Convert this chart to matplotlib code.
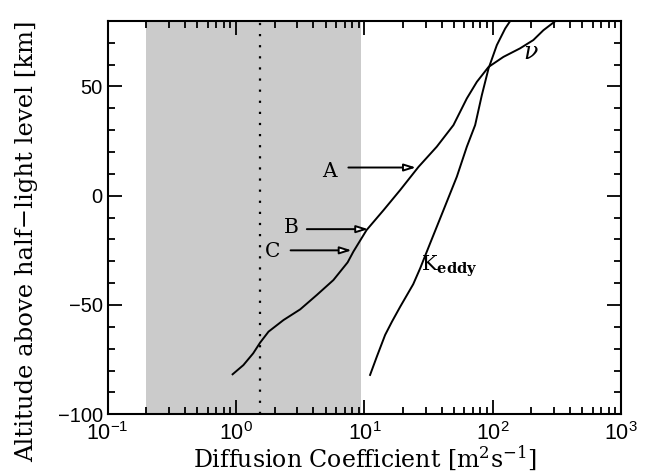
import matplotlib
matplotlib.use("Agg")
import matplotlib.pyplot as plt
from matplotlib.ticker import FixedLocator, FixedFormatter, MultipleLocator, LogLocator, NullFormatter

plt.rcParams['mathtext.fontset'] = 'custom'
plt.rcParams['mathtext.rm'] = 'DejaVu Serif'
plt.rcParams['mathtext.it'] = 'DejaVu Serif:italic'
plt.rcParams['mathtext.bf'] = 'DejaVu Serif:bold'
plt.rcParams['mathtext.sf'] = 'Liberation Sans'

# ---- data ----
nu_x = [0.94, 1.14, 1.36, 1.54, 1.79, 2.34, 3.16, 4.26, 5.73, 7.4, 8.2, 10.4, 14.1, 19.0, 26.4, 36.6, 49.4, 62.8, 75.2, 92.7, 121, 163, 207, 248, 306]
nu_y = [-81.7, -77.5, -72.1, -67.2, -62.2, -56.9, -52.0, -45.4, -38.6, -30.5, -25.6, -15.7, -6.6, 2.6, 13.2, 22.4, 32.3, 44.5, 52.1, 58.9, 63.5, 67.4, 71.2, 75.7, 79.8]
k_x = [11.07, 12.5, 14.5, 16.4, 19.0, 24.0, 27.2, 32.5, 41.3, 52.5, 62.8, 72.9, 82.2, 92.7, 107.6, 125, 137]
k_y = [-82.0, -73.6, -63.7, -57.6, -50.8, -40.5, -33.2, -21.8, -6.6, 8.7, 22.4, 32.3, 46.0, 58.2, 68.9, 76.5, 80.0]
shade_range = [0.2, 9.35]
dotted_x = 1.54
arrow_labels = ['A', 'B', 'C']
arrow_start_x = [7.5, 3.56, 2.66]
arrow_end_x = [25.2, 10.7, 7.95]
arrow_y = [12.9, -15.3, -25.0]
label_x = [5.3, 2.7, 1.93]
label_y = [11.1, -14.5, -25.7]
xtick_vals = [0.1, 1, 10, 100, 1000]
xtick_labels = [r'$\mathsf{10^{-1}}$', r'$\mathsf{10^{0}}$', r'$\mathsf{10^{1}}$', r'$\mathsf{10^{2}}$', r'$\mathsf{10^{3}}$']
ytick_vals = [-100, -50, 0, 50]
ytick_labels = ['\u2212100', '\u221250', '0', '50']

fig = plt.figure(figsize=(6.49, 4.74), dpi=100)
ax = fig.add_axes([0.166, 0.126, 0.791, 0.830])

ax.axvspan(shade_range[0], shade_range[1], color='#cbcbcb', lw=0, zorder=0)
ax.axvline(dotted_x, color='black', ls=(0, (1, 4)), lw=1.6, zorder=1)

ax.plot(nu_x, nu_y, color='black', lw=1.4, zorder=3)
ax.plot(k_x, k_y, color='black', lw=1.4, zorder=3)

for lab, xs, xe, ya, lx, ly in zip(arrow_labels, arrow_start_x, arrow_end_x, arrow_y, label_x, label_y):
    ax.annotate('', xy=(xe, ya), xytext=(xs, ya),
                arrowprops=dict(arrowstyle='-|>,head_length=0.7,head_width=0.22', fc='white', ec='black', lw=1.4,
                                shrinkA=0, shrinkB=0), zorder=4)
    ax.text(lx, ly, lab, fontsize=14.5, family='DejaVu Serif', ha='center', va='center')

ax.text(46, -32.3, r'K$_{\mathbf{eddy}}$', fontsize=15, family='DejaVu Serif', ha='center', va='center')
ax.text(197, 65.8, r'$\nu$', fontsize=17, ha='center', va='center')

ax.set_xscale('log')
ax.set_xlim(0.1, 1000)
ax.set_ylim(-100, 80)

ax.xaxis.set_major_locator(FixedLocator(xtick_vals))
ax.xaxis.set_major_formatter(FixedFormatter(xtick_labels))
ax.xaxis.set_minor_locator(LogLocator(base=10, subs=range(2, 10), numticks=20))
ax.xaxis.set_minor_formatter(NullFormatter())
ax.yaxis.set_major_locator(FixedLocator(ytick_vals))
ax.yaxis.set_major_formatter(FixedFormatter(ytick_labels))
ax.yaxis.set_minor_locator(MultipleLocator(10))

ax.tick_params(which='both', direction='in', top=True, right=True, width=1.3)
ax.tick_params(axis='y', labelsize=14.5)
ax.tick_params(axis='x', labelsize=15.5, pad=5)
ax.tick_params(which='major', length=10)
ax.tick_params(which='minor', length=5)
for lbl in ax.get_yticklabels():
    lbl.set_family('Liberation Sans')
for s in ax.spines.values():
    s.set_linewidth(1.5)

ax.set_xlabel(r'Diffusion Coefficient [m$^2$s$^{-1}$]', family='DejaVu Serif', fontsize=17, labelpad=-1)
ax.set_ylabel('Altitude above half\u2212light level [km]', family='DejaVu Serif', fontsize=17.5)
ax.yaxis.set_label_coords(-0.135, 0.44)

fig.savefig('out.png', dpi=100)
